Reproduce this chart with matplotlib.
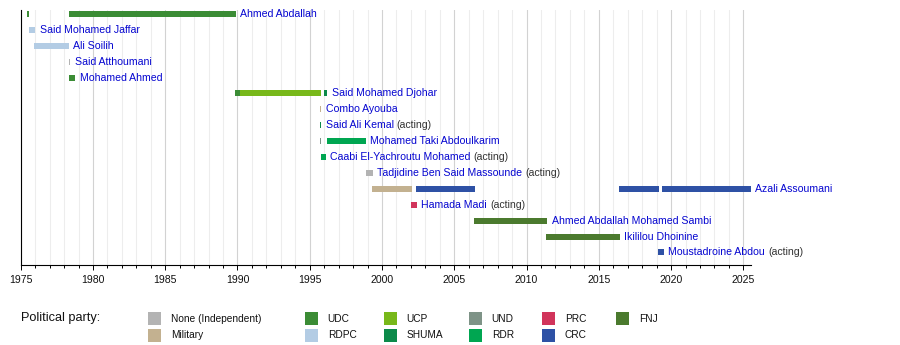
import matplotlib
matplotlib.use('Agg')
import matplotlib.pyplot as plt
from matplotlib.patches import Rectangle
from matplotlib.ticker import MultipleLocator

plt.rcParams['font.family'] = ['Liberation Sans', 'DejaVu Sans']

# ---------------- data ----------------
names = [
    'Ahmed Abdallah', 'Said Mohamed Jaffar', 'Ali Soilih', 'Said Atthoumani',
    'Mohamed Ahmed', 'Said Mohamed Djohar', 'Combo Ayouba', 'Said Ali Kemal',
    'Mohamed Taki Abdoulkarim', 'Caabi El-Yachroutu Mohamed',
    'Tadjidine Ben Said Massounde', 'Azali Assoumani', 'Hamada Madi',
    'Ahmed Abdallah Mohamed Sambi', 'Ikililou Dhoinine', 'Moustadroine Abdou',
]
acting = [False, False, False, False, False, False, False, True,
          False, True, True, False, True, False, False, True]

term_person = [0, 0, 1, 2, 3, 4, 5, 5, 5, 6, 7, 8, 8, 9, 10,
               11, 11, 11, 11, 12, 13, 14, 15]
term_start = [1975.46, 1978.37, 1975.55, 1975.95, 1978.32, 1978.37,
              1989.84, 1990.18, 1995.99, 1995.74, 1995.74, 1995.74, 1996.22,
              1995.76, 1998.86, 1999.33, 2002.36, 2016.41, 2019.38,
              2002.02, 2006.38, 2011.37, 2019.10]
term_end = [1975.59, 1989.88, 1976.0, 1978.32, 1978.42, 1978.77,
            1990.18, 1995.77, 1996.21, 1995.80, 1995.80, 1995.80, 1998.88,
            1996.09, 1999.38, 2002.08, 2006.42, 2019.18, 2025.51,
            2002.42, 2011.43, 2016.46, 2019.51]
term_party = ['UDC', 'UDC', 'RDPC', 'RDPC', 'None', 'UDC',
              'UDC', 'UCP', 'SHUMA', 'Military', 'SHUMA', 'UND', 'RDR',
              'RDR', 'None', 'Military', 'CRC', 'CRC', 'CRC',
              'PRC', 'FNJ', 'FNJ', 'CRC']

parties = ['None', 'Military', 'UDC', 'RDPC', 'UCP', 'SHUMA',
           'UND', 'RDR', 'PRC', 'CRC', 'FNJ']
party_labels = ['None (Independent)', 'Military', 'UDC', 'RDPC', 'UCP', 'SHUMA',
                'UND', 'RDR', 'PRC', 'CRC', 'FNJ']
party_colors = ['#b3b3b3', '#c3b190', '#3b8c35', '#b3cce4', '#78b81a', '#0c8a4a',
                '#7e9387', '#00a651', '#d1345b', '#2e51a5', '#4b7a2e']

year_min, year_max = 1975, 2025.51

# ---------------- figure ----------------
W, H = 900, 345
fig = plt.figure(figsize=(W / 100, H / 100), dpi=100)
ax_left, ax_right, ax_top, ax_bottom = 20.7, 750.7, 10, 265
ax = fig.add_axes([ax_left / W, (H - ax_bottom) / H,
                   (ax_right - ax_left) / W, (ax_bottom - ax_top) / H])

color_of = dict(zip(parties, party_colors))
for p, s, e, party in zip(term_person, term_start, term_end, term_party):
    ax.barh(p, e - s, left=s, height=0.38, color=color_of[party],
            linewidth=0, zorder=3)

name_color = '#0505d0'
for i, nm in enumerate(names):
    end = max(e for p, e in zip(term_person, term_end) if p == i)
    t = ax.annotate(nm, xy=(end, i), xytext=(3.2, 0), textcoords='offset points',
                    va='center', ha='left', color=name_color, fontsize=7.6,
                    annotation_clip=False, zorder=4)
    if acting[i]:
        ax.annotate('(acting)', xy=(1, 0), xycoords=t, xytext=(2.2, 0),
                    textcoords='offset points', va='bottom', ha='left',
                    color='#333333', fontsize=7.6, annotation_clip=False)

ax.set_xlim(year_min, year_max)
ax.set_ylim(15.79, -0.25)
ax.xaxis.set_major_locator(MultipleLocator(5))
ax.xaxis.set_minor_locator(MultipleLocator(1))
ax.grid(axis='x', which='major', color='#d2d2d2', linewidth=0.8, zorder=0)
ax.grid(axis='x', which='minor', color='#ededed', linewidth=0.8, zorder=0)
ax.set_axisbelow(True)
ax.set_yticks([])
for side in ('top', 'right'):
    ax.spines[side].set_visible(False)
for side in ('left', 'bottom'):
    ax.spines[side].set_color('black')
    ax.spines[side].set_linewidth(0.8)
ax.tick_params(axis='x', which='major', length=3.8, width=0.7, color='black',
               labelsize=7.6, pad=3.6, labelcolor='#111111')
ax.tick_params(axis='x', which='minor', length=2.3, width=0.7, color='black')

# ---------------- legend ----------------
fig.text(20.7 / W, (H - 318.5) / H, 'Political party:', fontsize=9.2,
         va='center', ha='left', color='#111111')
col_x = [148, 305, 384, 469, 542, 616]
row_y = [318.5, 335.5]
sw = 13
for k, (lab, col) in enumerate(zip(party_labels, party_colors)):
    cx = col_x[k // 2]
    cy = row_y[k % 2]
    fig.add_artist(Rectangle((cx / W, (H - cy - sw / 2) / H), sw / W, sw / H,
                             transform=fig.transFigure, facecolor=col,
                             edgecolor='none'))
    fig.text((cx + 22.7) / W, (H - cy) / H, lab, fontsize=7.3,
             va='center', ha='left', color='#111111')

fig.savefig('out.png', dpi=100)
